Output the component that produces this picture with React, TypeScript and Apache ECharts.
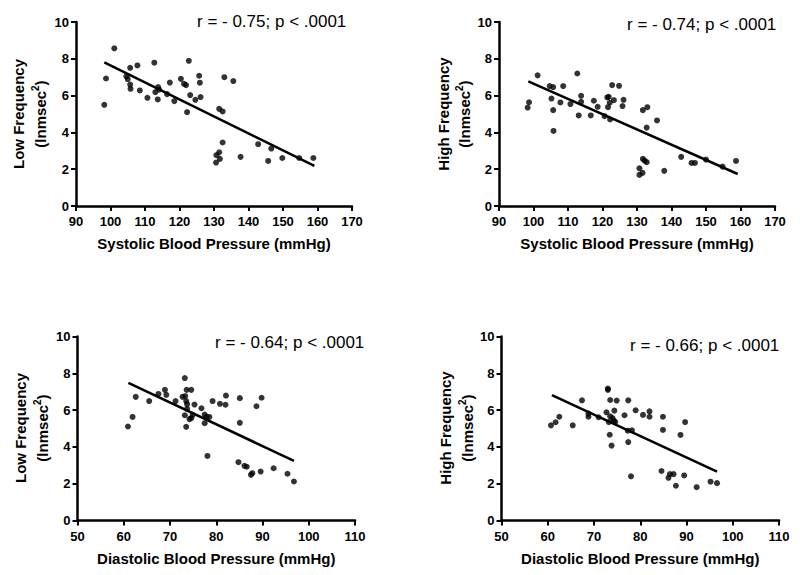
import React, { useEffect, useRef } from "react";
import * as echarts from "echarts";

// Systolic BP vs Low Frequency
const sbpLfX = [98.2, 98.7, 101.1, 104.6, 105.0, 105.7, 105.7, 105.8, 107.8, 108.5, 110.7, 112.7, 113.0, 113.8, 114.1, 113.7, 116.4, 117.2, 118.5, 120.4, 121.3, 121.9, 122.2, 122.7, 123.1, 124.6, 125.7, 125.9, 126.1, 131.5, 132.5, 133.0, 135.6, 132.5, 130.7, 130.6, 131.5, 131.7, 137.7, 142.8, 145.7, 146.6, 149.8, 154.7, 158.8];
const sbpLfY = [5.5, 6.93, 8.57, 7.05, 6.9, 7.51, 6.6, 6.37, 7.64, 6.28, 5.88, 7.79, 6.19, 6.46, 6.32, 5.79, 6.08, 6.71, 5.7, 6.91, 6.64, 6.57, 5.1, 7.89, 6.03, 5.77, 7.08, 6.7, 5.92, 5.28, 5.14, 7.0, 6.79, 3.45, 2.76, 2.36, 2.92, 2.56, 2.67, 3.36, 2.45, 3.12, 2.61, 2.61, 2.61];
const sbpLfLineX = [98.2, 159.1];
const sbpLfLineY = [7.8, 2.18];

// Systolic BP vs High Frequency
const sbpHfX = [98.3, 98.7, 101.2, 104.7, 105.7, 105.2, 105.7, 105.8, 107.8, 108.6, 110.7, 112.7, 113.1, 113.8, 113.8, 116.6, 117.5, 118.6, 120.6, 121.4, 121.8, 121.6, 122.1, 122.2, 122.8, 123.3, 124.8, 126.1, 125.8, 131.7, 133.0, 132.8, 135.8, 131.7, 132.2, 132.8, 130.7, 130.7, 131.6, 137.9, 142.8, 145.8, 146.8, 150.0, 154.8, 158.7];
const sbpHfY = [5.35, 5.64, 7.1, 6.52, 6.46, 5.84, 5.21, 4.08, 5.63, 6.52, 5.54, 7.2, 4.92, 5.99, 5.66, 4.92, 5.72, 5.39, 4.88, 5.9, 5.93, 5.37, 5.61, 4.7, 6.57, 5.75, 6.53, 5.77, 5.43, 5.21, 5.37, 4.26, 4.65, 2.56, 2.47, 2.38, 2.05, 1.69, 1.8, 1.91, 2.67, 2.34, 2.34, 2.52, 2.14, 2.45];
const sbpHfLineX = [98.5, 159.2];
const sbpHfLineY = [6.77, 1.74];

// Diastolic BP vs Low Frequency
const dbpLfX = [60.9, 61.9, 62.6, 65.5, 67.5, 68.9, 69.2, 71.2, 72.7, 73.2, 73.3, 73.6, 73.5, 73.7, 73.2, 73.7, 73.5, 74.6, 74.2, 74.6, 74.9, 75.3, 76.8, 77.5, 77.5, 77.9, 78.5, 78.1, 79.2, 80.8, 82.1, 82.0, 85.1, 85.1, 84.8, 86.1, 86.6, 87.5, 87.8, 88.7, 89.8, 89.6, 92.4, 95.4, 96.8];
const dbpLfY = [5.11, 5.63, 6.72, 6.49, 6.88, 7.1, 6.83, 6.49, 6.72, 7.74, 6.76, 7.1, 6.49, 6.32, 5.72, 6.07, 5.09, 7.1, 5.51, 5.56, 5.74, 6.3, 6.1, 5.76, 5.29, 5.63, 5.63, 3.51, 6.49, 6.34, 6.79, 6.29, 6.65, 5.31, 3.17, 2.97, 2.92, 2.48, 2.57, 6.21, 6.67, 2.66, 2.84, 2.54, 2.12];
const dbpLfLineX = [61.0, 96.8];
const dbpLfLineY = [7.48, 3.24];

// Diastolic BP vs High Frequency
const dbpHfX = [60.7, 61.7, 62.5, 65.4, 67.4, 68.8, 68.8, 71.0, 72.7, 73.0, 73.0, 73.2, 73.5, 73.4, 73.5, 73.8, 74.0, 74.3, 74.4, 74.6, 74.9, 76.6, 77.3, 77.4, 77.4, 78.2, 78.0, 79.0, 80.6, 82.0, 82.0, 84.9, 84.9, 84.6, 86.1, 86.4, 87.2, 87.7, 88.7, 89.5, 89.7, 92.2, 95.2, 96.6];
const dbpHfY = [5.17, 5.34, 5.64, 5.17, 6.53, 5.64, 5.81, 5.61, 5.88, 7.17, 7.1, 5.35, 6.55, 4.66, 5.66, 4.07, 5.57, 5.43, 5.97, 5.35, 6.52, 5.72, 4.88, 6.53, 4.26, 4.9, 2.4, 5.99, 5.74, 5.93, 5.64, 5.64, 4.92, 2.69, 2.32, 2.52, 2.52, 1.89, 4.65, 2.45, 5.35, 1.81, 2.11, 2.03];
const dbpHfLineX = [60.9, 96.6];
const dbpHfLineY = [6.82, 2.65];

const yTicks = [0, 2, 4, 6, 8, 10];
const sbpRange = [90, 170];
const dbpRange = [50, 110];

const correlationTexts = ["r = - 0.75; p < .0001", "r = - 0.74; p < .0001", "r = - 0.64; p < .0001", "r = - 0.66; p < .0001"];
const yTitles = ["Low Frequency", "High Frequency", "Low Frequency", "High Frequency"];
const xTitles = ["Systolic Blood Pressure (mmHg)", "Systolic Blood Pressure (mmHg)", "Diastolic Blood Pressure (mmHg)", "Diastolic Blood Pressure (mmHg)"];

const FONT = "'Liberation Sans', Arial, Helvetica, sans-serif";

const zip = (xs: number[], ys: number[]) => xs.map((x, i) => [x, ys[i]]);

export default function App() {
  const ref = useRef<HTMLDivElement>(null);
  useEffect(() => {
    if (!ref.current) return;
    const chart = echarts.init(ref.current, undefined, { renderer: "svg" });

    const grids = [
      { left: 76, top: 22, width: 276, height: 184 },
      { left: 499, top: 22, width: 276, height: 184 },
      { left: 77.5, top: 336.5, width: 277.5, height: 184 },
      { left: 501.5, top: 336.5, width: 277.5, height: 184 },
    ];
    const ranges = [sbpRange, sbpRange, dbpRange, dbpRange];

    const xAxes = grids.map((_, i) => ({
      type: "value",
      gridIndex: i,
      min: ranges[i][0],
      max: ranges[i][1],
      interval: 10,
      name: xTitles[i],
      nameLocation: "middle",
      nameGap: 30,
      nameTextStyle: { color: "#000", fontSize: 15, fontWeight: "bold", fontFamily: FONT },
      axisLine: { show: true, onZero: false, lineStyle: { color: "#000", width: 2.5 } },
      axisTick: { show: true, inside: false, length: 5, lineStyle: { color: "#000", width: 2 } },
      axisLabel: { color: "#000", fontSize: 13, fontWeight: "bold", fontFamily: FONT, margin: 9 },
      splitLine: { show: false },
    }));

    const yAxes = grids.map((_, i) => ({
      type: "value",
      gridIndex: i,
      min: yTicks[0],
      max: yTicks[yTicks.length - 1],
      interval: 2,
      axisLine: { show: true, onZero: false, lineStyle: { color: "#000", width: 2.5 } },
      axisTick: { show: true, inside: false, length: 5, lineStyle: { color: "#000", width: 2 } },
      axisLabel: { color: "#000", fontSize: 13, fontWeight: "bold", fontFamily: FONT, margin: 7 },
      splitLine: { show: false },
    }));

    const scatterData = [zip(sbpLfX, sbpLfY), zip(sbpHfX, sbpHfY), zip(dbpLfX, dbpLfY), zip(dbpHfX, dbpHfY)];
    const lineData = [
      zip(sbpLfLineX, sbpLfLineY),
      zip(sbpHfLineX, sbpHfLineY),
      zip(dbpLfLineX, dbpLfLineY),
      zip(dbpHfLineX, dbpHfLineY),
    ];

    const series: any[] = [];
    for (let i = 0; i < 4; i++) {
      series.push({
        type: "scatter",
        xAxisIndex: i,
        yAxisIndex: i,
        data: scatterData[i],
        symbol: "circle",
        symbolSize: 6,
        itemStyle: { color: "#000" },
      });
      series.push({
        type: "line",
        xAxisIndex: i,
        yAxisIndex: i,
        data: lineData[i],
        showSymbol: false,
        symbol: "none",
        lineStyle: { color: "#000", width: 2.5 },
      });
    }

    const rPos = [
      { x: 197, y: 21 },
      { x: 627, y: 24 },
      { x: 215, y: 342 },
      { x: 630, y: 345 },
    ];
    const titlePos = [
      { a: 18, b: 40, y: 114 },
      { a: 443, b: 464, y: 114 },
      { a: 20, b: 42, y: 428 },
      { a: 445, b: 467, y: 428 },
    ];

    const graphic: any[] = [];
    for (let i = 0; i < 4; i++) {
      graphic.push({
        type: "text",
        x: rPos[i].x,
        y: rPos[i].y,
        style: {
          text: correlationTexts[i],
          fill: "#000",
          font: `17px ${FONT}`,
          textAlign: "left",
          textVerticalAlign: "middle",
        },
      });
      graphic.push({
        type: "text",
        x: titlePos[i].a,
        y: titlePos[i].y,
        rotation: Math.PI / 2,
        style: {
          text: yTitles[i],
          fill: "#000",
          font: `bold 15px ${FONT}`,
          textAlign: "center",
          textVerticalAlign: "middle",
        },
      });
      graphic.push({
        type: "text",
        x: titlePos[i].b,
        y: titlePos[i].y,
        rotation: Math.PI / 2,
        style: {
          text: "{a|(lnmsec}{s|2}{a|)}",
          fill: "#000",
          textAlign: "center",
          textVerticalAlign: "middle",
          rich: {
            a: { fontSize: 15, fontWeight: "bold", fontFamily: FONT, fill: "#000" },
            s: { fontSize: 10, fontWeight: "bold", fontFamily: FONT, fill: "#000", padding: [0, 0, 9, 0] },
          },
        },
      });
    }

    chart.setOption({
      animation: false,
      backgroundColor: "#fff",
      grid: grids.map((g) => ({ ...g, containLabel: false })),
      xAxis: xAxes,
      yAxis: yAxes,
      series,
      graphic,
    });

    return () => chart.dispose();
  }, []);

  return (
    <div
      ref={ref}
      style={{ position: "absolute", left: 0, top: 0, width: 800, height: 575, background: "#fff" }}
    />
  );
}
